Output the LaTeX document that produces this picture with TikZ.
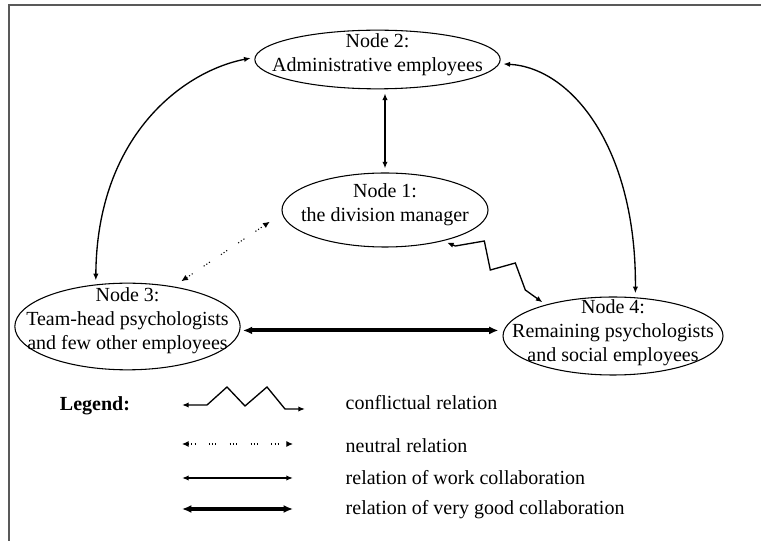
\documentclass[tikz,border=0pt]{standalone}
\usepackage{fontspec}
\setmainfont{Liberation Serif}
\usepackage{tikz}
\usetikzlibrary{shapes,arrows.meta,positioning}

\begin{document}
\begin{tikzpicture}[
    x=0.75pt, y=-0.75pt,
    entity/.style={ellipse, draw, line width=0.8pt, inner sep=0pt},
    txt/.style={align=center, font=\fontsize{15}{18}\selectfont},
    legtext/.style={anchor=west, font=\fontsize{15}{18}\selectfont},
    conflict/.style={<->, >={Latex[length=5pt,width=4pt]}, line width=1pt, shorten <=3pt, shorten >=3pt},
    neutral/.style={<->, >={Latex[length=5pt,width=4.5pt]}, line width=0.8pt, dash pattern=on 0.8pt off 1.6pt on 0.8pt off 1.6pt on 0.8pt off 10pt},
    work/.style={<->, >={Latex[length=5pt,width=4pt]}, line width=1pt, shorten <=3pt, shorten >=3pt},
    verygood/.style={<->, >={Latex[length=7pt,width=6pt]}, line width=3pt, shorten <=2pt, shorten >=3pt}
]
\useasboundingbox (0,0) rectangle (761,541);

% Frame
\draw[black!65, line width=1.2pt] (761,5) -- (9,5) -- (9,541);

% Entities
\node[entity, minimum width=184pt, minimum height=44pt] at (377.5,59.5) (admin) {};
\node[txt] at (377.5,55) (admintxt) {Node 2:\\Administrative employees};
\node[entity, minimum width=154.5pt, minimum height=55.5pt] at (385,210) (manager) {};
\node[txt] at (385,205) (managertxt) {Node 1:\\the division manager};
\node[entity, minimum width=169pt, minimum height=65pt] at (127.5,326.5) (teamhead) {};
\node[txt] at (127.5,321) (teamheadtxt) {Node 3:\\Team-head psychologists\\and few other employees};
\node[entity, minimum width=165pt, minimum height=58.5pt] at (613,336) (remaining) {};
\node[txt] at (613,333) (remainingtxt) {Node 4:\\Remaining psychologists\\and social employees};

% Relations
\draw[work] (admin.south -| manager.north) -- (manager.north);
\draw[work] (teamhead.127) .. controls +(1,-148) and +(-72,14) .. (admin.179);
\draw[work] (admin.-2) .. controls +(73,4) and +(1,-148) .. (remaining.60);
\draw[neutral, shorten <=7pt, shorten >=11pt] (teamhead.41) -- (manager.182);
\draw[verygood] (teamhead.-2) -- (teamhead.-2 -| remaining.west);
\draw[conflict] (manager.-28) -- ++(12,5) -- ++(29,-5) -- ++(6,29) -- ++(25,-7) -- ++(10,27) -- (remaining.155);

% Legend
\node[font=\bfseries\fontsize{15}{18}\selectfont] at (95,406) (legend) {Legend:};
\node[legtext] at (341,403) (lconf) {conflictual relation};
\node[legtext] at (341,446) (lneut) {neutral relation};
\node[legtext] at (341,478) (lwork) {relation of work collaboration};
\node[legtext] at (341,510) (lgood) {relation of very good collaboration};

\coordinate (confa) at (182,405);
\coordinate (confb) at (305,409);
\coordinate (neuta) at (182,444);
\coordinate (neutb) at (293,444);
\coordinate (worka) at (182,478);
\coordinate (workb) at (293,478);
\coordinate (gooda) at (182,509);
\coordinate (goodb) at (293,509);

\draw[conflict, shorten <=0pt, shorten >=0pt] (confa) -- ++(25,0) -- ++(20,-18) -- ++(18,19) -- ++(22,-19) -- ++(18,22) -- (confb);
\draw[neutral] (neuta) -- (neutb);
\draw[work, shorten <=0pt, shorten >=0pt] (worka) -- (workb);
\draw[verygood, shorten <=0pt, shorten >=0pt] (gooda) -- (goodb);

\end{tikzpicture}
\end{document}
